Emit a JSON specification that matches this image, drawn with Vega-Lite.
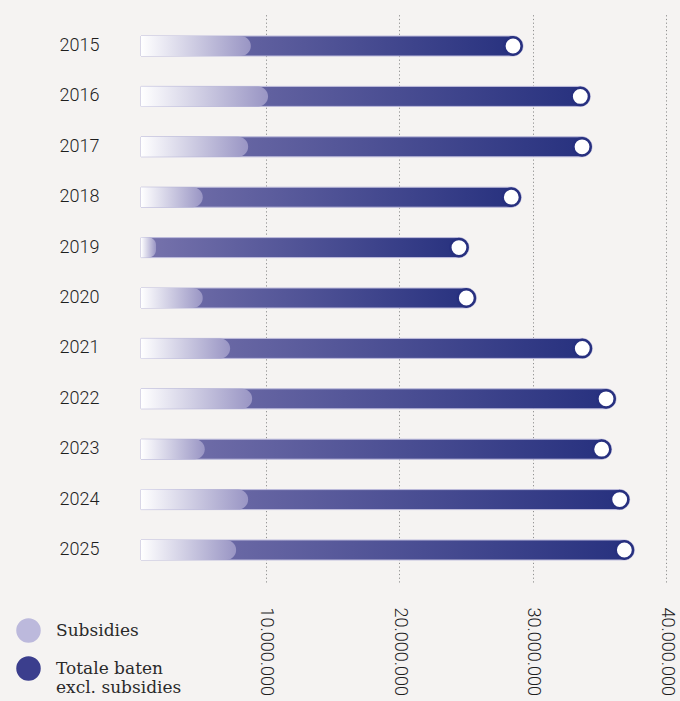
{
  "$schema": "https://vega.github.io/schema/vega-lite/v6.json",
  "autosize": "none",
  "width": 534,
  "height": 568,
  "padding": {"left": 132, "top": 14, "right": 14, "bottom": 119},
  "background": "#f5f3f2",
  "data": {
    "values": [
      {"jaar": "2015", "reeks": "Totale baten excl. subsidies", "waarde": 28540000},
      {"jaar": "2016", "reeks": "Totale baten excl. subsidies", "waarde": 33580000},
      {"jaar": "2017", "reeks": "Totale baten excl. subsidies", "waarde": 33710000},
      {"jaar": "2018", "reeks": "Totale baten excl. subsidies", "waarde": 28410000},
      {"jaar": "2019", "reeks": "Totale baten excl. subsidies", "waarde": 24490000},
      {"jaar": "2020", "reeks": "Totale baten excl. subsidies", "waarde": 25040000},
      {"jaar": "2021", "reeks": "Totale baten excl. subsidies", "waarde": 33730000},
      {"jaar": "2022", "reeks": "Totale baten excl. subsidies", "waarde": 35510000},
      {"jaar": "2023", "reeks": "Totale baten excl. subsidies", "waarde": 35180000},
      {"jaar": "2024", "reeks": "Totale baten excl. subsidies", "waarde": 36530000},
      {"jaar": "2025", "reeks": "Totale baten excl. subsidies", "waarde": 36880000},
      {"jaar": "2015", "reeks": "Subsidies", "waarde": 8900000},
      {"jaar": "2016", "reeks": "Subsidies", "waarde": 10190000},
      {"jaar": "2017", "reeks": "Subsidies", "waarde": 8700000},
      {"jaar": "2018", "reeks": "Subsidies", "waarde": 5300000},
      {"jaar": "2019", "reeks": "Subsidies", "waarde": 1800000},
      {"jaar": "2020", "reeks": "Subsidies", "waarde": 5300000},
      {"jaar": "2021", "reeks": "Subsidies", "waarde": 7350000},
      {"jaar": "2022", "reeks": "Subsidies", "waarde": 9000000},
      {"jaar": "2023", "reeks": "Subsidies", "waarde": 5450000},
      {"jaar": "2024", "reeks": "Subsidies", "waarde": 8700000},
      {"jaar": "2025", "reeks": "Subsidies", "waarde": 7800000}
    ]
  },
  "encoding": {
    "y": {
      "field": "jaar",
      "type": "ordinal",
      "sort": "ascending",
      "scale": {"paddingInner": 0, "paddingOuter": 0.135},
      "axis": {
        "title": null,
        "domain": false,
        "ticks": false,
        "labelPadding": 33,
        "labelFont": "Roboto",
        "labelFontSize": 18,
        "labelFontWeight": 300,
        "labelColor": "#1e1e1e"
      }
    }
  },
  "layer": [
    {
      "transform": [{"filter": "datum.reeks == 'Totale baten excl. subsidies'"}],
      "mark": {
        "type": "bar",
        "height": 20,
        "cornerRadiusTopRight": 10,
        "cornerRadiusBottomRight": 10,
        "xOffset": 10,
        "x2Offset": 9,
        "fill": {"gradient": "linear", "x1": 0, "y1": 0, "x2": 1, "y2": 0, "stops": [{"offset": 0, "color": "#7874ad"}, {"offset": 1, "color": "#26307e"}]},
        "stroke": "#bdbbdc",
        "strokeWidth": 1
      },
      "encoding": {
        "x": {
          "field": "waarde",
          "type": "quantitative",
          "scale": {"domain": [0, 40000000], "nice": false},
          "axis": {
            "title": null,
            "orient": "bottom",
            "values": [10000000, 20000000, 30000000, 40000000],
            "grid": true,
            "gridDash": [1.2, 2.5],
            "gridColor": "#8f8f8f",
            "gridWidth": 1,
            "domain": false,
            "ticks": false,
            "labelAngle": 90,
            "labelPadding": 25,
            "labelFont": "Roboto",
            "labelFontSize": 18,
            "labelFontWeight": 300,
            "labelColor": "#1e1e1e",
            "labelExpr": "replace(format(datum.value, ','), /,/g, '.')"
          }
        },
        "x2": {"datum": 0}
      }
    },
    {
      "transform": [{"filter": "datum.reeks == 'Subsidies'"}],
      "mark": {
        "type": "bar",
        "height": 20,
        "cornerRadiusTopRight": 10,
        "cornerRadiusBottomRight": 10,
        "x2Offset": 9,
        "fill": {"gradient": "linear", "x1": 0, "y1": 0, "x2": 1, "y2": 0, "stops": [{"offset": 0, "color": "#ffffff"}, {"offset": 1, "color": "#9995c4"}]}
      },
      "encoding": {
        "x": {"field": "waarde", "type": "quantitative"},
        "x2": {"datum": 0}
      }
    },
    {
      "transform": [{"filter": "datum.reeks == 'Totale baten excl. subsidies'"}],
      "mark": {
        "type": "point",
        "filled": true,
        "fill": "#ffffff",
        "stroke": "#27307f",
        "strokeWidth": 2.5,
        "size": 300,
        "opacity": 1
      },
      "encoding": {
        "x": {"field": "waarde", "type": "quantitative"}
      }
    },
    {
      "mark": {"type": "circle", "opacity": 0},
      "encoding": {
        "x": {"field": "waarde", "type": "quantitative"},
        "color": {
          "field": "reeks",
          "type": "nominal",
          "scale": {
            "domain": ["Subsidies", "Totale baten excl. subsidies"],
            "range": ["#bcb9dc", "#3b3e8d"]
          },
          "legend": {
            "title": null,
            "orient": "none",
            "legendX": -116,
            "legendY": 604,
            "symbolType": "circle",
            "symbolSize": 600,
            "symbolStrokeWidth": 0,
            "symbolOpacity": 1,
            "labelFont": "DejaVu Serif",
            "labelFontSize": 17,
            "labelFontWeight": 300,
            "labelColor": "#2a2a2a",
            "labelOffset": 15,
            "labelLimit": 220,
            "rowPadding": 13,
            "labelExpr": "datum.label == 'Totale baten excl. subsidies' ? ['Totale baten', 'excl. subsidies'] : datum.label"
          }
        }
      }
    }
  ],
  "config": {
    "view": {"stroke": null}
  }
}
